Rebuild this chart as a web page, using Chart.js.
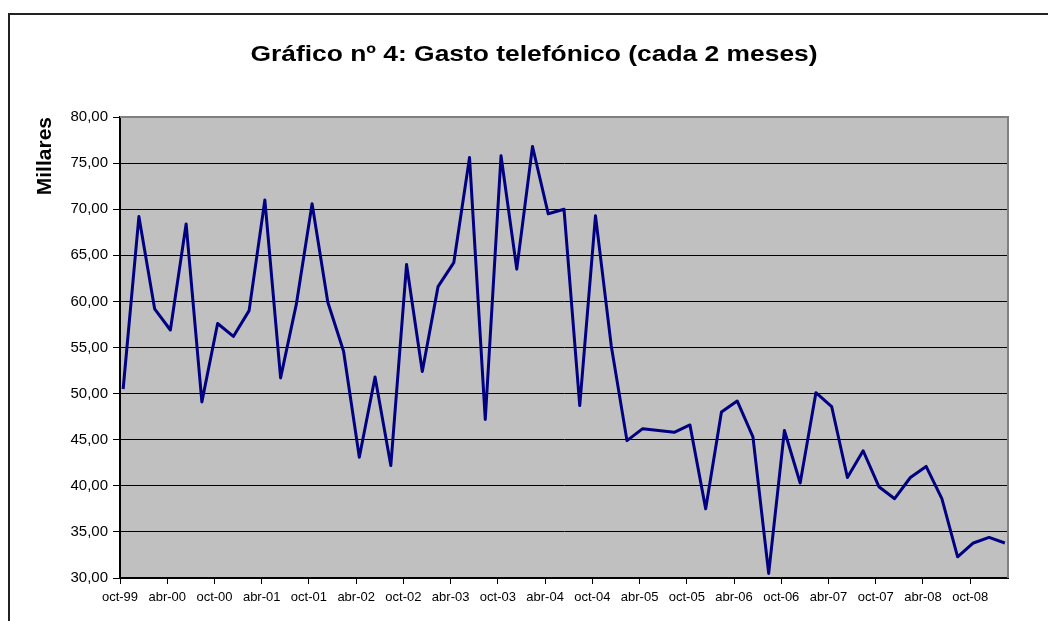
<!DOCTYPE html>
<html>
<head>
<meta charset="utf-8">
<title>Gasto telefónico</title>
<script src="https://cdn.jsdelivr.net/npm/chart.js@4.4.1/dist/chart.umd.min.js"></script>
<style>
  html, body { margin: 0; padding: 0; background: #fff; }
</style>
</head>
<body>
<canvas id="gasto-chart" width="1048" height="621"></canvas>
<script>
const chartTitle = "Gráfico nº 4: Gasto telefónico (cada 2 meses)";
const yAxisTitle = "Millares";

// one label every 3 readings (every 6 months)
const tickLabels = [
  "oct-99", "abr-00", "oct-00", "abr-01", "oct-01", "abr-02", "oct-02",
  "abr-03", "oct-03", "abr-04", "oct-04", "abr-05", "oct-05", "abr-06",
  "oct-06", "abr-07", "oct-07", "abr-08", "oct-08"
];

// bimonthly spend, thousands
const gasto = [
  50.5, 69.2, 59.2, 56.9, 68.4, 49.1, 57.6, 56.2, 59.0, 71.0,
  51.7, 59.7, 70.6, 59.9, 54.6, 43.1, 51.8, 42.2, 64.0, 52.4,
  61.6, 64.2, 75.6, 47.2, 75.8, 63.5, 76.8, 69.5, 70.0, 48.7,
  69.3, 55.2, 44.9, 46.2, 46.0, 45.8, 46.6, 37.5, 48.0, 49.2,
  45.3, 30.5, 46.0, 40.3, 50.1, 48.6, 40.9, 43.8, 39.9, 38.6,
  40.9, 42.1, 38.6, 32.3, 33.8, 34.4, 33.8
];

const yMin = 30;
const yMax = 80;
const yStep = 5;

Chart.defaults.font.family = "'Liberation Sans', Arial, sans-serif";
Chart.defaults.color = "#000";

// frame, grey plot area and the title
const decor = {
  id: "decor",
  beforeDraw(chart) {
    const { ctx, chartArea: a } = chart;
    ctx.save();
    ctx.fillStyle = "#fff";
    ctx.fillRect(0, 0, chart.width, chart.height);
    ctx.strokeStyle = "#222";
    ctx.lineWidth = 2;
    ctx.strokeRect(9, 14, chart.width + 20, chart.height + 20);
    ctx.fillStyle = "#c0c0c0";
    ctx.fillRect(a.left, a.top, a.right - a.left, a.bottom - a.top);

    ctx.fillStyle = "#000";
    ctx.font = "bold 22px 'Liberation Sans', Arial, sans-serif";
    ctx.textAlign = "center";
    ctx.textBaseline = "alphabetic";
    ctx.translate(534, 61);
    ctx.scale(1.2, 1);
    ctx.fillText(chartTitle, 0, 0);
    ctx.restore();
  },
  beforeDatasetsDraw(chart) {
    const { ctx, chartArea: a } = chart;
    ctx.save();
    ctx.strokeStyle = "#808080";
    ctx.lineWidth = 2;
    ctx.beginPath();
    ctx.moveTo(a.left, a.top);
    ctx.lineTo(a.right, a.top);
    ctx.lineTo(a.right, a.bottom);
    ctx.stroke();
    ctx.restore();
  }
};

new Chart(document.getElementById("gasto-chart").getContext("2d"), {
  type: "line",
  data: {
    datasets: [
      {
        label: yAxisTitle,
        data: gasto.map((v, i) => ({ x: i, y: v })),
        borderColor: "#000080",
        borderWidth: 3,
        borderJoinStyle: "round",
        pointRadius: 0,
        tension: 0,
        fill: false,
      },
    ],
  },
  options: {
    responsive: false,
    animation: false,
    layout: { padding: { left: 20, right: 40, top: 117, bottom: 13 } },
    plugins: {
      legend: { display: false },
      title: { display: false },
      tooltip: { enabled: false },
    },
    scales: {
      x: {
        type: "linear",
        min: -0.2,
        max: 56.2,
        afterBuildTicks: (scale) => {
          scale.ticks = tickLabels.map((_, i) => ({ value: i * 3 - 0.2 }));
        },
        afterFit: (scale) => { scale.height = 30; },
        ticks: {
          autoSkip: false,
          maxRotation: 0,
          padding: 6,
          font: { size: 13 },
          callback: (v, i) => tickLabels[i],
        },
        grid: { drawOnChartArea: false, tickLength: 6, color: "#000" },
        border: { color: "#000", width: 2 },
      },
      y: {
        min: yMin,
        max: yMax,
        afterFit: (scale) => { scale.width = 100; },
        ticks: {
          stepSize: yStep,
          padding: 5,
          font: { size: 15 },
          callback: (v) => v.toFixed(2).replace(".", ","),
        },
        grid: { color: "#000", lineWidth: 1, tickLength: 7 },
        border: { color: "#000", width: 2 },
        title: {
          display: true,
          text: yAxisTitle,
          align: "end",
          padding: { top: 13, bottom: 0 },
          font: { size: 21, weight: "bold" },
        },
      },
    },
  },
  plugins: [decor],
});
</script>
</body>
</html>
